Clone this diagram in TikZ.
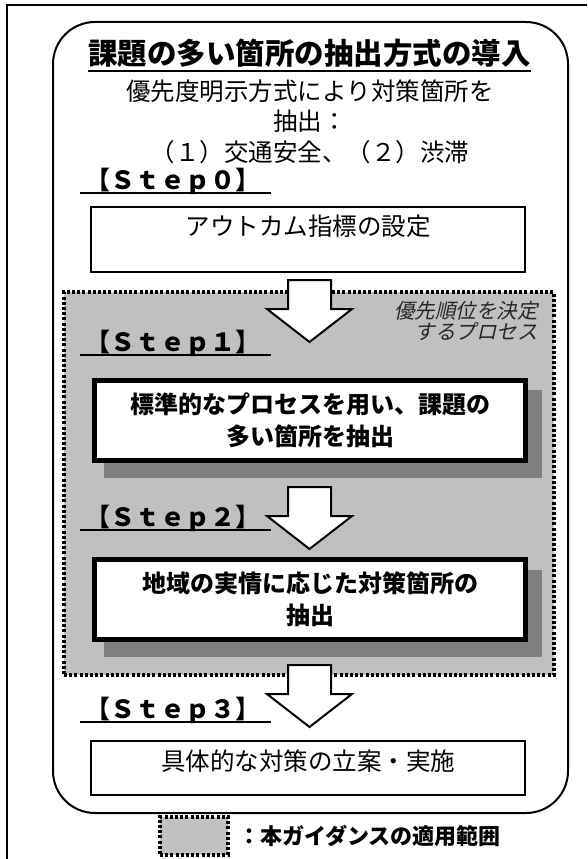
\documentclass[tikz,border=0pt]{standalone}
\usepackage{fontspec}
\setmainfont{Noto Sans CJK JP}
\newfontfamily\slfont{Noto Sans CJK JP}[FakeSlant=0.22]
\definecolor{regiongray}{HTML}{C0C0C0}
\definecolor{shadowgray}{HTML}{808080}
\definecolor{notegray}{HTML}{262626}
\begin{document}
\begin{tikzpicture}[x=1pt,y=-1pt,
  frameline/.style={line width=2pt},
  region/.style={draw=black,fill=regiongray,line width=3.5pt,dash pattern=on 3pt off 2.2pt},
  plainbox/.style={draw,fill=white,line width=2pt,inner sep=0pt},
  boldbox/.style={draw,fill=white,line width=5pt,inner sep=0pt,align=center,
    font=\bfseries\fontsize{24}{32}\selectfont},
  shadowbox/.style={fill=shadowgray,inner sep=0pt},
  bodytext/.style={inner sep=0pt,anchor=base,font=\fontsize{24.5}{30}\selectfont},
  steplabel/.style={inner sep=0pt,anchor=base west,font=\bfseries\fontsize{25}{30}\selectfont},
  blockarrow/.style={draw,fill=white,line width=2pt,line join=miter},
  note/.style={inner sep=0pt,anchor=base east,text=notegray,font=\slfont\fontsize{20.5}{22}\selectfont}
]
\useasboundingbox (0,0) rectangle (587,859);
% outer frame (only top and left visible)
\draw[frameline] (7,859) -- (7,5) -- (587,5);
% rounded frame
\draw[frameline,rounded corners=42pt] (53,22) rectangle (568,813);

% title and intro
\node[inner sep=0pt,anchor=base,font=\bfseries\fontsize{29.5}{34}\selectfont] (title) at (309.5,65) {課題の多い箇所の抽出方式の導入};
\draw[line width=1.6pt] ([yshift=-6pt]title.base west) -- ([yshift=-6pt]title.base east);
\node[bodytext] (intro1) at (310,100) {優先度明示方式により対策箇所を};
\node[bodytext] (intro2) at (310,130) {抽出：};
\node[bodytext] (intro3) at (310,161) {（１）交通安全、（２）渋滞};

% Step0
\node[steplabel] (s0) at (85,189) {【Ｓｔｅｐ０】};
\draw[line width=1.6pt] (80,193) -- (271,193);
\node[plainbox,minimum width=434pt,minimum height=65pt] (box0) at (308,239.5) {};
\node[bodytext] (t0) at (308,235) {アウトカム指標の設定};

% scope region
\node[region,minimum width=490pt,minimum height=383pt,inner sep=0pt] (scope) at (309,483.5) {};
\node[note] (n1) at (538,318) {優先順位を決定};
\node[note] (n2) at (538,339) {するプロセス};

% Step1
\node[steplabel] (s1) at (85,351) {【Ｓｔｅｐ１】};
\draw[line width=1.6pt] (80,355) -- (271,355);
\node[shadowbox,minimum width=438pt,minimum height=88pt] (sh1) at (323,434) {};
\node[boldbox,minimum width=431pt,minimum height=80pt] (box1) at (310,420.5) {標準的なプロセスを用い、課題の\\多い箇所を抽出};

% Step2
\node[steplabel] (s2) at (85,526) {【Ｓｔｅｐ２】};
\draw[line width=1.6pt] (80,530) -- (271,530);
\node[shadowbox,minimum width=438pt,minimum height=87pt] (sh2) at (323,613.5) {};
\node[boldbox,minimum width=431pt,minimum height=80pt] (box2) at (310,599.5) {地域の実情に応じた対策箇所の\\抽出};

% Step3
\node[steplabel] (s3) at (85,718) {【Ｓｔｅｐ３】};
\draw[line width=1.6pt] (80,722) -- (271,722);
\node[plainbox,minimum width=434pt,minimum height=54pt] (box3) at (308,768) {};
\node[bodytext] (t3) at (308,770) {具体的な対策の立案・実施};

% block arrows
\foreach \t in {280,487,665}{
  \draw[blockarrow] (288,\t) -- (331,\t) -- (331,\t+29) -- (352,\t+29)
    -- (309.5,\t+62) -- (267,\t+29) -- (288,\t+29) -- cycle;
}

% legend
\node[region,minimum width=68pt,minimum height=38pt,inner sep=0pt] (legbox) at (194,836) {};
\node[inner sep=0pt,anchor=base west,font=\bfseries\fontsize{22}{26}\selectfont] (legtext) at (238,844) {：本ガイダンスの適用範囲};
\end{tikzpicture}
\end{document}
